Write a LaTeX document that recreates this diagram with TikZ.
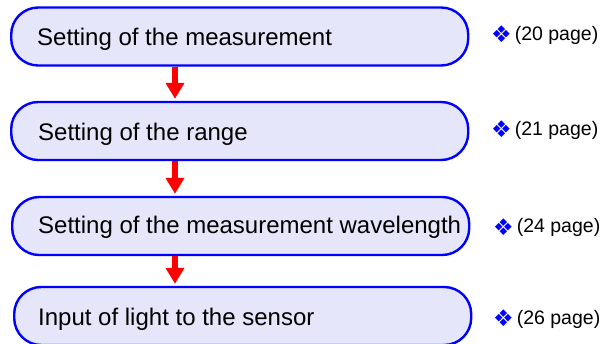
\documentclass[tikz,border=0pt]{standalone}
\usepackage{fontspec}
\setmainfont{Liberation Sans}
\newfontfamily\symfont{DejaVu Sans}
\usetikzlibrary{arrows.meta}
\definecolor{boxfill}{RGB}{230,230,250}
\definecolor{boxline}{RGB}{0,0,255}
\tikzset{
  x=1pt,y=-1pt,
  stepbox/.style={draw=boxline, fill=boxfill, line width=2.4pt, rounded corners=27pt,
    minimum width=457pt, minimum height=58pt, inner sep=0pt, anchor=west},
  steptext/.style={anchor=base west, inner sep=0pt, font=\fontsize{24}{28}\selectfont},
  pagelabel/.style={anchor=base west, inner sep=0pt, font=\fontsize{19.5}{23}\selectfont},
  flowarrow/.style={draw=red, line width=6pt, -{Triangle[width=18pt,length=16pt]}, shorten >=2pt}
}
\newcommand{\pmark}{\raisebox{-2.5pt}{\symfont\fontsize{23}{26}\selectfont\color{boxline}❖}\hspace{3pt}}
\begin{document}
\begin{tikzpicture}
\useasboundingbox (0,0) rectangle (604,343);
\node[stepbox] (b1) at (10,36.5) {};
\node[stepbox] (b2) at (10,131) {};
\node[stepbox] (b3) at (11,226) {};
\node[stepbox] (b4) at (13,316) {};
\node[steptext] (t1) at (37,45) {Setting of the measurement};
\node[steptext] (t2) at (38,140) {Setting of the range};
\node[steptext] (t3) at (38,233) {Setting of the measurement wavelength};
\node[steptext] (t4) at (38,325) {Input of light to the sensor};
\node[pagelabel] (p1) at (491,40) {\pmark(20 page)};
\node[pagelabel] (p2) at (491,135) {\pmark(21 page)};
\node[pagelabel] (p3) at (493,232.5) {\pmark(24 page)};
\node[pagelabel] (p4) at (493,324) {\pmark(26 page)};
\coordinate (a1) at (175,66);
\draw[flowarrow] (b1.south -| a1) -- (b2.north -| a1);
\draw[flowarrow] (b2.south -| a1) -- (b3.north -| a1);
\draw[flowarrow] (b3.south -| a1) -- (b4.north -| a1);
\end{tikzpicture}
\end{document}
